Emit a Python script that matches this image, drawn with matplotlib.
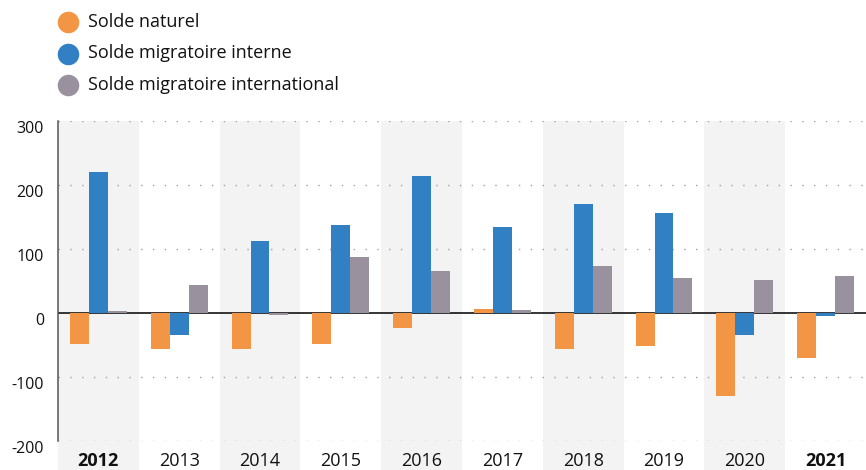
import numpy as np
import matplotlib
matplotlib.use("Agg")
import matplotlib.pyplot as plt
import matplotlib.transforms as mtransforms
from matplotlib.patches import Rectangle
from matplotlib.lines import Line2D

years = ["2012", "2013", "2014", "2015", "2016", "2017", "2018", "2019", "2020", "2021"]
solde_naturel = [-48, -56, -57, -49, -23, 7, -56, -52, -129, -71]
solde_interne = [220, -34, 113, 137, 214, 134, 170, 157, -35, -5]
solde_international = [3, 44, -3, 88, 66, 4, 73, 55, 52, 58]
bold_years = ["2012", "2021"]
yticks = [-200, -100, 0, 100, 200, 300]

series = [
    ("Solde naturel", solde_naturel, "#F29645"),
    ("Solde migratoire interne", solde_interne, "#3280C4"),
    ("Solde migratoire international", solde_international, "#9A919E"),
]

plt.rcParams["font.family"] = ["Open Sans", "DejaVu Sans"]

W, H = 866, 470
fig = plt.figure(figsize=(W / 100, H / 100), dpi=100)
ax = fig.add_axes([58 / W, 29 / H, (W - 58) / W, 320 / H])

x = np.arange(len(years))
bw = 0.235

# alternating background bands, running down behind the year labels
trans = mtransforms.blended_transform_factory(ax.transData, ax.transAxes)
for i in range(0, len(years), 2):
    ax.add_patch(Rectangle((i - 0.5, -0.095), 1, 1.095, transform=trans,
                           facecolor="#F3F3F3", edgecolor="none", zorder=0, clip_on=False))

for k, (name, vals, col) in enumerate(series):
    ax.bar(x + (k - 1) * bw, vals, width=bw, color=col, zorder=3)

for t in [-200, -100, 100, 200, 300]:
    ax.axhline(t, color="#A0A0A0", lw=1.0, linestyle=(0, (1, 7.5)), zorder=1)
ax.axhline(0, color="black", lw=1.1, zorder=2)

ax.set_xlim(-0.5, len(years) - 0.5)
ax.set_ylim(-200, 300)

for s in ["top", "right", "bottom"]:
    ax.spines[s].set_visible(False)
ax.spines["left"].set_color("#555555")
ax.spines["left"].set_linewidth(1.1)
ax.patch.set_alpha(0)

ax.set_yticks(yticks, [str(v) for v in yticks], va="top")
ax.set_xticks(x, years)
ax.tick_params(axis="y", length=0, pad=10, labelsize=11.5, colors="#111111")
ax.tick_params(axis="x", length=0, pad=8, labelsize=13, colors="#111111")
for lab in ax.get_xticklabels():
    if lab.get_text() in bold_years:
        lab.set_fontweight("bold")

# legend at top left
for k, (name, vals, col) in enumerate(series):
    yy = 1 - (22 + 31.5 * k) / H
    fig.add_artist(Line2D([68 / W], [yy], marker="o", markersize=14.5, color=col,
                          linestyle="none", transform=fig.transFigure))
    fig.text(88 / W, yy, name, fontsize=13, va="center", ha="left", color="#111111")

fig.savefig("out.png", dpi=100)
